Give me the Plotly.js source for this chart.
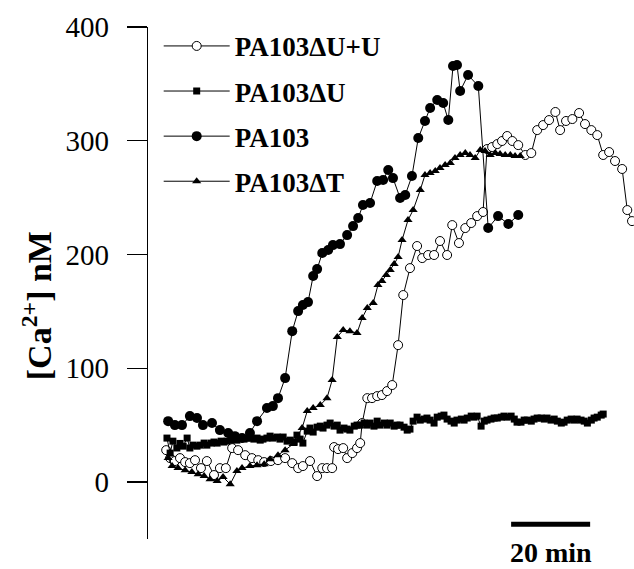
<!DOCTYPE html>
<html>
<head>
<meta charset="utf-8">
<script src="https://cdn.plot.ly/plotly-3.0.1.min.js"></script>
<style>html,body{margin:0;padding:0;background:#fff;}#chart{width:634px;height:569px;}</style>
</head>
<body>
<div id="chart"></div>
<script>
// ---- Data (time in minutes, [Ca2+] in nM) ----
const seriesNames = ["PA103\u0394U+U", "PA103\u0394U", "PA103", "PA103\u0394T"];

// PA103ΔU+U (open circles)
const openT = [4.6,5.6,6.8,8.1,9.4,10.6,11.9,13.4,14.9,16.7,18.2,19.7,21.3,22.8,24.6,26.3,27.9,29.4,31.1,32.9,34.7,36.5,38.0,39.2,41.0,42.8,44.1,45.3,46.6,47.1,48.1,49.4,50.4,51.7,52.9,53.7,54.2,55.5,56.7,58.0,59.2,60.5,61.8,63.3,64.6,66.3,68.1,69.4,70.9,72.4,73.9,75.7,77.0,78.7,80.3,81.8,83.3,84.8,85.8,87.1,88.4,89.6,90.9,92.2,93.7,95.5,97.0,98.5,100.0,101.5,103.1,104.3,105.8,107.4,109.1,110.6,112.2,113.7,115.2,116.7,118.2,120.0,121.3,122.5];
const openY = [28.1,21.1,18.5,21.1,17.6,16.7,19.3,12.3,18.5,6.2,12.3,12.3,29.9,28.1,23.7,21.1,19.3,17.6,18.5,19.3,21.1,16.7,12.3,14.1,18.5,5.3,12.3,12.3,12.3,30.8,29.0,29.9,21.1,25.5,29.9,34.3,51.9,73.8,73.8,75.6,76.5,80.0,85.3,120.4,164.4,188.1,207.5,196.9,199.6,199.6,211.9,199.6,225.9,210.1,223.3,227.7,233.8,237.4,292.7,294.5,297.1,299.8,304.2,299.8,296.2,287.5,289.2,309.4,313.8,318.2,325.3,309.4,317.4,319.1,324.4,314.7,309.4,305.0,287.5,290.1,282.2,275.2,239.1,229.4];

// PA103ΔU (filled squares)
const sqT = [4.8,5.6,6.3,7.3,8.1,8.9,9.9,10.6,11.4,12.4,13.2,14.2,14.9,16.0,16.7,17.5,18.5,19.2,20.0,21.0,21.8,22.5,23.5,24.3,25.1,25.8,26.8,27.6,28.4,29.1,30.1,30.9,31.6,32.7,33.4,34.2,35.2,36.0,37.0,37.7,38.5,39.2,40.3,41.0,41.8,42.8,43.6,44.3,45.3,46.1,47.1,47.9,48.6,49.6,50.4,51.1,52.2,52.9,53.7,54.7,55.5,56.2,57.2,58.0,58.7,59.8,60.5,61.3,62.3,63.0,63.8,64.8,65.6,66.3,67.1,68.1,68.9,69.9,70.6,71.4,72.4,73.2,74.2,74.9,75.7,76.7,77.5,78.2,79.3,80.0,80.8,81.8,82.5,83.3,84.3,85.1,85.8,86.8,87.6,88.4,89.4,90.1,90.9,91.9,92.7,93.4,94.4,95.2,96.0,97.0,97.7,98.5,99.5,100.3,101.0,102.0,102.8,103.6,104.6,105.3,106.1,107.1,107.9,108.6,109.6,110.4,111.2,112.2,112.9,113.7,114.7,115.2];
const sqY = [38.7,25.5,36.0,30.0,34.0,31.6,38.7,30.0,32.5,31.6,32.5,34.3,32.5,34.3,35.2,34.3,36.0,35.2,36.0,36.9,37.8,36.9,38.7,37.8,38.7,38.7,37.8,38.7,36.9,37.8,38.7,40.4,38.7,39.6,37.8,39.6,36.0,36.9,35.2,41.3,37.8,34.3,44.8,47.5,44.0,48.3,49.2,47.5,50.1,51.9,49.2,50.1,45.7,47.5,46.6,45.7,49.2,50.1,50.1,51.9,50.1,51.9,49.2,53.6,50.1,51.9,50.1,51.9,49.2,50.1,50.1,48.3,45.7,46.6,53.6,57.1,54.5,55.4,56.3,54.5,51.9,57.1,58.0,58.9,55.4,53.6,51.9,54.5,55.4,54.5,56.3,58.0,57.1,58.0,49.2,53.6,54.5,55.4,56.3,56.3,57.1,58.0,57.1,58.0,55.4,52.7,52.7,54.5,54.5,53.6,55.4,56.3,56.3,55.4,56.3,54.5,55.4,53.6,51.9,52.7,54.5,55.4,54.5,55.4,54.5,53.6,51.9,54.5,56.3,57.1,58.9,59.8];

// PA103 (filled circles)
const circT = [5.1,6.8,8.6,10.6,12.4,13.9,16.2,18.2,20.3,22.0,23.8,25.8,27.6,30.1,31.6,32.9,34.7,36.5,38.0,39.2,40.5,41.8,42.8,44.1,45.6,46.8,48.6,50.4,51.9,53.2,54.4,56.2,58.0,59.5,60.8,62.0,63.8,65.1,66.8,68.4,70.1,71.4,73.2,74.7,76.0,77.2,78.2,79.0,81.0,83.6,86.1,88.6,91.2,93.7];
const circY = [53.6,50.1,50.1,58.0,56.3,50.1,51.9,45.7,43.1,40.4,38.7,43.1,53.6,65.1,66.8,73.8,91.4,132.7,150.3,155.6,158.2,181.1,187.2,201.3,204.0,208.3,209.2,217.1,225.0,232.1,243.5,245.3,264.6,265.5,274.3,267.2,249.7,252.3,269.0,302.4,317.4,328.8,335.8,333.2,318.2,365.7,366.6,343.7,357.8,348.1,223.3,233.8,226.8,234.7];

// PA103ΔT (filled triangles)
const triT = [5.1,6.1,7.6,9.4,11.1,12.7,14.2,15.7,17.5,19.0,20.8,22.5,23.8,25.8,27.6,29.4,30.9,32.9,34.7,36.7,39.0,40.3,41.8,43.6,45.3,46.6,47.9,49.4,51.1,52.9,54.2,55.5,57.0,58.2,59.2,60.3,61.3,62.3,63.3,64.3,65.8,67.1,68.9,70.1,71.4,72.7,73.9,75.2,76.5,77.7,79.0,80.3,81.5,82.8,84.1,85.3,86.6,87.9,89.1,90.4,91.7,92.9,94.2];
const triY = [21.1,14.1,12.3,10.5,8.8,7.0,5.3,2.6,0.9,4.4,-1.8,9.7,12.3,14.1,14.9,15.8,20.2,23.7,28.1,33.4,47.5,62.4,65.1,67.7,73.8,89.7,127.5,133.6,132.7,131.0,144.2,153.0,157.4,173.2,176.7,182.0,186.4,191.6,197.8,212.7,230.3,239.1,256.7,269.9,271.6,273.4,276.0,278.7,280.4,284.8,287.5,289.2,287.5,284.8,291.9,291.0,287.5,289.2,288.3,287.5,287.5,286.6,286.6];

// Axis / scale bar info
const yTicks = [0, 100, 200, 300, 400];
const yTickLabels = ["0", "100", "200", "300", "400"];
const scaleBarStart = 91.9;   // minutes
const scaleBarLength = 20;    // minutes
const scaleBarY = -37;        // nM level of the bar
const scaleBarLabel = "20 min";
const yTitle = "[Ca<sup>2+</sup>] nM";

// ---- Plot ----
const serif = "Liberation Serif, Times New Roman, serif";
const lineStyle = {color: "#000", width: 1};

const traces = [
  {x: openT, y: openY, name: seriesNames[0], legendgroup: "a", mode: "lines+markers", line: lineStyle,
   marker: {symbol: "circle", size: 9, color: "#fff", line: {color: "#000", width: 1}}},
  {x: sqT, y: sqY, name: seriesNames[1], legendgroup: "b", mode: "lines+markers", line: lineStyle,
   marker: {symbol: "square", size: 7, color: "#000"}},
  {x: circT, y: circY, name: seriesNames[2], legendgroup: "c", mode: "lines+markers", line: lineStyle,
   marker: {symbol: "circle", size: 10, color: "#000"}},
  {x: triT, y: triY, name: seriesNames[3], legendgroup: "d", mode: "lines+markers", line: lineStyle,
   marker: {symbol: "triangle-up", size: 8, color: "#000"}}
];

const layout = {
  width: 634, height: 569,
  margin: {l: 148, r: 0, t: 27, b: 30},
  paper_bgcolor: "#fff", plot_bgcolor: "#fff",
  showlegend: true,
  legend: {
    x: 0.022, y: 1.01, xanchor: "left", yanchor: "top",
    font: {family: serif, size: 27, color: "#000", weight: "bold"},
    tracegroupgap: 7, itemwidth: 66, bgcolor: "rgba(0,0,0,0)"
  },
  xaxis: {range: [0, 123], visible: false, fixedrange: true},
  yaxis: {
    range: [-50, 400], tickvals: yTicks, ticktext: yTickLabels,
    ticks: "outside", ticklen: 20, tickwidth: 1.3, tickcolor: "#000",
    showline: true, linecolor: "#000", linewidth: 1.3,
    showgrid: false, zeroline: false,
    tickfont: {family: serif, size: 29, color: "#000"},
    ticklabelstandoff: 12
  },
  shapes: [{
    type: "line", xref: "x", yref: "y",
    x0: scaleBarStart, x1: scaleBarStart + scaleBarLength, y0: scaleBarY, y1: scaleBarY,
    line: {color: "#000", width: 5}
  }],
  annotations: [
    {text: scaleBarLabel, xref: "x", yref: "paper", x: scaleBarStart + scaleBarLength / 2, y: -0.027,
     xanchor: "center", yanchor: "middle", showarrow: false,
     font: {family: serif, size: 28, color: "#000", weight: "bold"}},
    {text: yTitle, xref: "paper", yref: "paper", x: -0.228, y: 0.455, textangle: -90,
     xanchor: "center", yanchor: "middle", showarrow: false,
     font: {family: serif, size: 34, color: "#000", weight: "bold"}}
  ]
};

Plotly.newPlot("chart", traces, layout, {staticPlot: true, displayModeBar: false});
</script>
</body>
</html>
